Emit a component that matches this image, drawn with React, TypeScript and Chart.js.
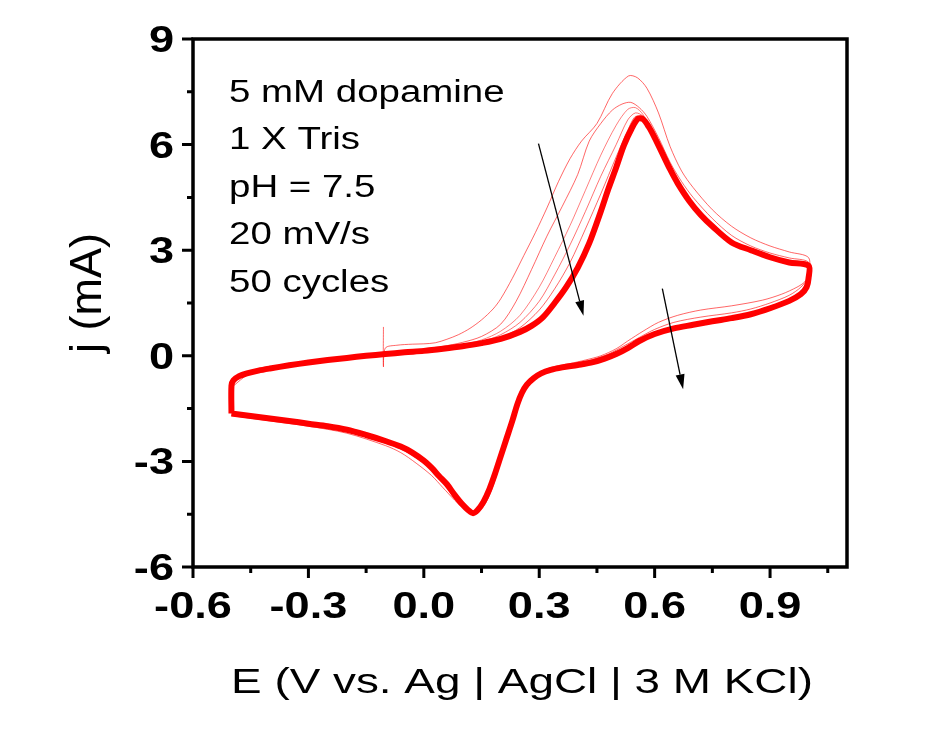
import React, { useEffect, useRef } from 'react';
import { Chart, registerables } from 'chart.js';

Chart.register(...registerables);

// ---- Axis ticks & labels ----
const xMajorTicks = [-0.6, -0.3, 0.0, 0.3, 0.6, 0.9];
const xTickLabels = ['-0.6', '-0.3', '0.0', '0.3', '0.6', '0.9'];
const xMinorTicks = [-0.45, -0.15, 0.15, 0.45, 0.75, 1.05];
const yMajorTicks = [-6, -3, 0, 3, 6, 9];
const yTickLabels = ['-6', '-3', '0', '3', '6', '9'];
const yMinorTicks = [-4.5, -1.5, 1.5, 4.5, 7.5];
const xTitle = 'E (V vs. Ag | AgCl | 3 M KCl)';
const yTitle = 'j (mA)';
const noteLines = ['5 mM dopamine', '1 X Tris', 'pH = 7.5', '20 mV/s', '50 cycles'];

// ---- Cycle 50 (dense band of late cycles) ----
const E_last = [
  -0.5, -0.5, -0.495, -0.48, -0.46, -0.43, -0.4, -0.35, -0.3, -0.25, -0.2, -0.15, -0.1, -0.05, 0.0, 0.05, 0.1, 0.15,
  0.2, 0.25, 0.28, 0.31, 0.34, 0.37, 0.4, 0.43, 0.46, 0.48, 0.5, 0.52, 0.54, 0.557, 0.57, 0.585, 0.6, 0.62, 0.64,
  0.66, 0.69, 0.72, 0.75, 0.8, 0.85, 0.9, 0.95, 1.0,
  1.0, 0.995, 0.98, 0.95, 0.9, 0.85, 0.8, 0.75, 0.7, 0.65, 0.6, 0.56, 0.53, 0.5, 0.47, 0.44, 0.4, 0.36, 0.33, 0.305,
  0.285, 0.268, 0.255, 0.243, 0.23, 0.215, 0.2, 0.185, 0.17, 0.155, 0.14, 0.128, 0.115, 0.1, 0.08, 0.06, 0.04, 0.02, 0.0,
  -0.03, -0.06, -0.1, -0.15, -0.2, -0.25, -0.3, -0.35, -0.4, -0.45, -0.5,
];
const J_last = [
  -1.64, -0.85, -0.7, -0.58, -0.5, -0.42, -0.36, -0.27, -0.19, -0.12, -0.06, 0.0, 0.05, 0.1, 0.14, 0.2, 0.27, 0.36,
  0.48, 0.68, 0.85, 1.1, 1.5, 1.95, 2.5, 3.2, 4.1, 4.75, 5.35, 5.98, 6.45, 6.74, 6.72, 6.5, 6.2, 5.75, 5.3,
  4.9, 4.4, 4.0, 3.68, 3.22, 3.0, 2.8, 2.65, 2.56,
  2.2, 1.95, 1.75, 1.56, 1.35, 1.18, 1.07, 0.98, 0.88, 0.78, 0.62, 0.42, 0.22, 0.05, -0.08, -0.18, -0.26, -0.33, -0.4, -0.5,
  -0.64, -0.82, -1.05, -1.38, -1.85, -2.35, -2.85, -3.35, -3.8, -4.15, -4.38, -4.47, -4.38, -4.22, -3.95, -3.65, -3.42, -3.18, -2.98,
  -2.75, -2.58, -2.42, -2.25, -2.1, -2.0, -1.93, -1.85, -1.78, -1.71, -1.64,
];

// ---- Cycle 1 (starts at open-circuit potential) ----
const E_c1 = [
  -0.105, -0.105, -0.1, -0.07, -0.03, 0.0, 0.03, 0.06, 0.09, 0.12, 0.15, 0.18, 0.2, 0.23, 0.26, 0.29, 0.32, 0.35,
  0.38, 0.41, 0.45, 0.49, 0.532, 0.555, 0.58, 0.61, 0.64, 0.67, 0.7, 0.75, 0.8, 0.85, 0.9, 0.95, 1.0,
  1.0, 0.99, 0.97, 0.93, 0.88, 0.8, 0.72, 0.66, 0.61, 0.57, 0.53, 0.5, 0.46, 0.42, 0.38, 0.34, 0.31, 0.285, 0.265,
  0.25, 0.235, 0.22, 0.2, 0.18, 0.16, 0.14, 0.12, 0.1, 0.08, 0.05, 0.02, -0.02, -0.06, -0.1, -0.2, -0.3, -0.4, -0.5,
];
const J_c1 = [
  0.82, -0.31, 0.22, 0.3, 0.33, 0.34, 0.37, 0.47, 0.6, 0.78, 1.02, 1.33, 1.62, 2.2, 2.85, 3.5, 4.2, 4.95,
  5.6, 6.1, 6.6, 7.45, 7.95, 7.9, 7.6, 6.9, 5.95, 5.25, 4.78, 4.15, 3.68, 3.35, 3.12, 2.95, 2.79,
  2.3, 2.1, 1.95, 1.75, 1.58, 1.42, 1.3, 1.15, 0.95, 0.7, 0.42, 0.2, 0.0, -0.12, -0.22, -0.3, -0.42, -0.6, -0.85,
  -1.2, -1.7, -2.3, -3.0, -3.7, -4.2, -4.45, -4.45, -4.3, -4.1, -3.75, -3.4, -3.05, -2.75, -2.55, -2.2, -2.0, -1.85, -1.7,
];

// ---- Cycle 2 ----
const E_c2 = [
  -0.5, -0.45, -0.4, -0.3, -0.2, -0.1, 0.0, 0.05, 0.1, 0.15, 0.2, 0.24, 0.28, 0.32, 0.36, 0.4, 0.43, 0.46, 0.49,
  0.515, 0.538, 0.56, 0.58, 0.61, 0.64, 0.67, 0.7, 0.75, 0.8, 0.85, 0.9, 0.95, 1.0,
  1.0, 0.98, 0.95, 0.9, 0.85, 0.8, 0.72, 0.65, 0.6, 0.56, 0.52, 0.48, 0.44, 0.4, 0.36, 0.32, 0.29, 0.27, 0.255,
  0.24, 0.225, 0.21, 0.19, 0.17, 0.15, 0.13, 0.11, 0.09, 0.06, 0.03, 0.0, -0.05, -0.1, -0.2, -0.3, -0.4, -0.5,
];
const J_c2 = [
  -0.9, -0.48, -0.36, -0.17, -0.03, 0.08, 0.2, 0.27, 0.38, 0.55, 0.9, 1.55, 2.45, 3.4, 4.25, 5.15, 6.1, 6.6, 6.98,
  7.15, 7.2, 7.05, 6.8, 6.2, 5.5, 4.95, 4.5, 3.9, 3.42, 3.12, 2.92, 2.78, 2.66,
  2.25, 1.95, 1.72, 1.5, 1.33, 1.22, 1.1, 0.95, 0.75, 0.52, 0.28, 0.05, -0.1, -0.2, -0.28, -0.38, -0.55, -0.78, -1.05,
  -1.45, -2.0, -2.6, -3.3, -3.9, -4.3, -4.45, -4.35, -4.15, -3.7, -3.35, -3.05, -2.7, -2.48, -2.15, -1.97, -1.8, -1.68,
];

// ---- Intermediate cycles (anodic segments that separate from the band) ----
const E_c5 = [0.1, 0.15, 0.2, 0.25, 0.3, 0.34, 0.38, 0.42, 0.46, 0.5, 0.53, 0.55, 0.57, 0.6];
const J_c5 = [0.32, 0.45, 0.7, 1.15, 1.95, 2.8, 3.7, 4.7, 5.7, 6.55, 7.0, 7.05, 6.85, 6.25];
const E_c10 = [0.1, 0.15, 0.2, 0.25, 0.3, 0.34, 0.38, 0.42, 0.46, 0.5, 0.53, 0.55, 0.57, 0.6];
const J_c10 = [0.3, 0.4, 0.6, 0.95, 1.55, 2.3, 3.15, 4.1, 5.1, 6.0, 6.7, 6.9, 6.8, 6.22];
const E_c20 = [0.15, 0.2, 0.25, 0.3, 0.34, 0.38, 0.42, 0.46, 0.5, 0.53, 0.55, 0.57];
const J_c20 = [0.38, 0.52, 0.8, 1.3, 1.9, 2.65, 3.6, 4.6, 5.65, 6.4, 6.8, 6.75];

// ---- Arrows (trend of successive cycles) ----
const arrowFromE = [0.298, 0.62];
const arrowFromJ = [6.03, 1.91];
const arrowToE = [0.415, 0.674];
const arrowToJ = [1.14, -0.95];

const toPoints = (xs: number[], ys: number[]) => xs.map((x, i) => ({ x, y: ys[i] }));

const FONT = '"Liberation Sans", Arial, sans-serif';

function stretchedText(
  ctx: CanvasRenderingContext2D,
  text: string,
  px: number,
  py: number,
  font: string,
  sx: number,
  align: 'left' | 'center' | 'right'
) {
  ctx.save();
  ctx.font = font;
  const w = ctx.measureText(text).width * sx;
  const x0 = align === 'center' ? px - w / 2 : align === 'right' ? px - w : px;
  ctx.translate(x0, py);
  ctx.scale(sx, 1);
  ctx.textAlign = 'left';
  ctx.textBaseline = 'alphabetic';
  ctx.fillStyle = '#000';
  ctx.fillText(text, 0, 0);
  ctx.restore();
}

const overlayPlugin = {
  id: 'overlay',
  afterDraw(chart: any) {
    const { ctx, chartArea } = chart;
    const { left, right, top, bottom } = chartArea;
    const xs = chart.scales.x;
    const ys = chart.scales.y;
    ctx.save();

    // arrows
    ctx.strokeStyle = '#000';
    ctx.fillStyle = '#000';
    for (let i = 0; i < arrowFromE.length; i++) {
      const x1 = xs.getPixelForValue(arrowFromE[i]);
      const y1 = ys.getPixelForValue(arrowFromJ[i]);
      const x2 = xs.getPixelForValue(arrowToE[i]);
      const y2 = ys.getPixelForValue(arrowToJ[i]);
      const ang = Math.atan2(y2 - y1, x2 - x1);
      const hl = 15;
      const hw = 4.5;
      const bx = x2 - hl * Math.cos(ang);
      const by = y2 - hl * Math.sin(ang);
      ctx.lineWidth = 1.3;
      ctx.beginPath();
      ctx.moveTo(x1, y1);
      ctx.lineTo(bx, by);
      ctx.stroke();
      ctx.beginPath();
      ctx.moveTo(x2, y2);
      ctx.lineTo(bx + hw * Math.sin(ang), by - hw * Math.cos(ang));
      ctx.lineTo(bx - hw * Math.sin(ang), by + hw * Math.cos(ang));
      ctx.closePath();
      ctx.fill();
    }

    // frame
    ctx.strokeStyle = '#000';
    ctx.lineWidth = 3.5;
    ctx.strokeRect(left, top, right - left, bottom - top);

    // ticks
    ctx.lineWidth = 3;
    ctx.beginPath();
    xMajorTicks.forEach((v) => {
      const p = xs.getPixelForValue(v);
      ctx.moveTo(p, bottom);
      ctx.lineTo(p, bottom + 11);
    });
    xMinorTicks.forEach((v) => {
      const p = xs.getPixelForValue(v);
      ctx.moveTo(p, bottom);
      ctx.lineTo(p, bottom + 6);
    });
    yMajorTicks.forEach((v) => {
      const p = ys.getPixelForValue(v);
      ctx.moveTo(left, p);
      ctx.lineTo(left - 11, p);
    });
    yMinorTicks.forEach((v) => {
      const p = ys.getPixelForValue(v);
      ctx.moveTo(left, p);
      ctx.lineTo(left - 6, p);
    });
    ctx.stroke();

    // tick labels
    const tickFont = `bold 37px ${FONT}`;
    xMajorTicks.forEach((v, i) => {
      stretchedText(ctx, xTickLabels[i], xs.getPixelForValue(v), bottom + 51, tickFont, 1.22, 'center');
    });
    yMajorTicks.forEach((v, i) => {
      stretchedText(ctx, yTickLabels[i], left - 19, ys.getPixelForValue(v) + 13, tickFont, 1.22, 'right');
    });

    // axis titles
    stretchedText(ctx, xTitle, (left + right) / 2 + 2, bottom + 126, `35px ${FONT}`, 1.31, 'center');
    ctx.save();
    ctx.translate(left - 92, (top + bottom) / 2 - 10);
    ctx.rotate(-Math.PI / 2);
    ctx.font = `45px ${FONT}`;
    ctx.textAlign = 'center';
    ctx.textBaseline = 'alphabetic';
    ctx.fillStyle = '#000';
    ctx.fillText(yTitle, 0, 0);
    ctx.restore();

    // annotation
    noteLines.forEach((t, i) => {
      stretchedText(ctx, t, left + 36, top + 62.5 + i * 47.5, `31px ${FONT}`, 1.24, 'left');
    });

    ctx.restore();
  },
};

export default function App() {
  const ref = useRef<HTMLCanvasElement | null>(null);

  useEffect(() => {
    if (!ref.current) return;
    const thin = (data: any, alpha: number) => ({
      data,
      showLine: true,
      borderColor: `rgba(255,0,0,${alpha})`,
      borderWidth: 1,
      pointRadius: 0,
      tension: 0.3,
    });
    const chart = new Chart(ref.current, {
      type: 'scatter',
      data: {
        datasets: [
          {
            label: 'cycle 50',
            data: toPoints(E_last, J_last),
            showLine: true,
            borderColor: 'rgb(255,0,0)',
            borderWidth: 6,
            pointRadius: 0,
            tension: 0.3,
          },
          { label: 'cycle 20', ...thin(toPoints(E_c20, J_c20), 0.6) },
          { label: 'cycle 10', ...thin(toPoints(E_c10, J_c10), 0.55) },
          { label: 'cycle 5', ...thin(toPoints(E_c5, J_c5), 0.5) },
          { label: 'cycle 2', ...thin(toPoints(E_c2, J_c2), 0.6) },
          { label: 'cycle 1', ...thin(toPoints(E_c1, J_c1), 0.6) },
        ] as any,
      },
      options: {
        animation: false,
        responsive: false,
        maintainAspectRatio: false,
        layout: { padding: { left: 193, top: 39, right: 104, bottom: 165 } },
        plugins: { legend: { display: false }, tooltip: { enabled: false }, title: { display: false } },
        scales: {
          x: { type: 'linear', min: -0.6, max: 1.1, display: false },
          y: { type: 'linear', min: -6, max: 9, display: false },
        },
      },
      plugins: [overlayPlugin],
    });
    return () => chart.destroy();
  }, []);

  return (
    <div style={{ position: 'absolute', left: 0, top: 0, width: 951, height: 732, background: '#fff' }}>
      <canvas ref={ref} width={951} height={732} style={{ width: 951, height: 732, display: 'block' }} />
    </div>
  );
}
